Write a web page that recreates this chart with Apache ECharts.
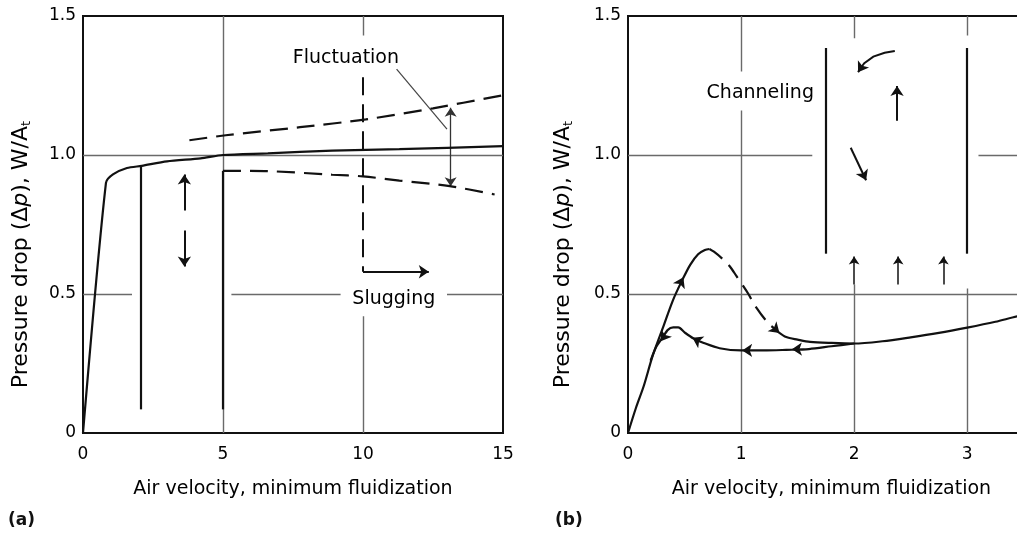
<!DOCTYPE html>
<html><head><meta charset="utf-8">
<script src="https://cdn.jsdelivr.net/npm/echarts@6/dist/echarts.min.js"></script>
<style>html,body{margin:0;padding:0;background:#fff}#c{width:1017px;height:536px}</style>
</head><body><div id="c"></div>
<script>
// ---------- data ----------
const xTicksA = ['0', '5', '10', '15'];
const xTicksB = ['0', '1', '2', '3'];
const yTicks = ['0', '0.5', '1.0', '1.5'];
const xTitle = 'Air velocity, minimum fluidization';

// Panel (a)
const aMain = [[0,0],[0.82,0.90],[1.07,0.93],[1.57,0.953],[2.1,0.961],[3.0,0.977],[4.2,0.988],[5.0,1.0],[6.6,1.006],[8.9,1.016],[11.3,1.021],[15,1.032]];
const aUpperDash = [[3.8,1.053],[5.1,1.071],[7.75,1.10],[10.1,1.128],[12.5,1.168],[15,1.215]];
const aLowerDash = [[5,0.943],[6.5,0.942],[8.9,0.929],[10,0.923],[11.3,0.908],[13.1,0.888],[14.7,0.858]];
const aWalls = [[[2.05,0.961],[2.05,0.085]], [[5,0.943],[5,0.085]]];
const aSlugLine = [[[10,1.28],[10,0.58]]];
const aSlugArrow = [[[10,0.58],[12.35,0.58]]];
const aArrows = [[[3.62,0.80],[3.62,0.93]], [[3.62,0.728],[3.62,0.599]]];
const aFluct = [[[13.13,0.888],[13.13,1.17]]];
const aLeader = [[[11.2,1.309],[13.0,1.093]]];
const aGrid = [[[5,0],[5,1.5]], [[10,0],[10,0.42]], [[10,1.43],[10,1.5]], [[0,1],[15,1]], [[0,0.5],[1.75,0.5]], [[5.3,0.5],[9.2,0.5]], [[13.0,0.5],[15,0.5]]];
const aLabels = [['Fluctuation', 9.39, 1.35], ['Slugging', 11.1, 0.48]];

// Panel (b)
const bRise = [[0,0],[0.07,0.09],[0.14,0.17],[0.22,0.28],[0.31,0.38],[0.40,0.48],[0.48,0.55],[0.55,0.605],[0.62,0.643],[0.68,0.658],[0.72,0.662]];
const bDash = [[0.72,0.662],[0.76,0.652],[0.84,0.625],[0.9,0.6],[0.96,0.564],[1.065,0.5],[1.12,0.46],[1.23,0.40],[1.33,0.363]];
const bForward = [[1.33,0.363],[1.4,0.345],[1.5,0.336],[1.61,0.328],[1.8,0.324],[2.0,0.322],[2.25,0.33],[2.5,0.344],[2.75,0.36],[3.0,0.379],[3.25,0.40],[3.45,0.42],[3.6,0.43]];
const bReturn = [[2.0,0.322],[1.8,0.312],[1.6,0.302],[1.4,0.299],[1.2,0.297],[1.0,0.297],[0.81,0.305],[0.67,0.324],[0.58,0.34],[0.5,0.362],[0.445,0.38],[0.4,0.38],[0.35,0.37],[0.3,0.34],[0.25,0.31],[0.2,0.26]];
const bHeads = [[[0.44,0.52],[0.49,0.56]], [[1.27,0.385],[1.34,0.36]], [[1.56,0.302],[1.45,0.301]], [[1.12,0.297],[1.01,0.297]], [[0.64,0.328],[0.57,0.343]], [[0.35,0.365],[0.29,0.33]]];
const bWalls = [[[1.75,1.385],[1.75,0.645]], [[3.0,1.385],[3.0,0.645]]];
const bCurl = [[[2.36,1.374],[2.27,1.368],[2.17,1.354],[2.09,1.33],[2.04,1.303]]];
const bCurlHead = [[[2.07,1.32],[2.035,1.298]]];
const bFlowArrows = [[[2.38,1.123],[2.38,1.248]], [[1.97,1.026],[2.106,0.909]]];
const bInlet = [[[2.0,0.534],[2.0,0.635]], [[2.39,0.534],[2.39,0.635]], [[2.79,0.534],[2.79,0.635]]];
const bGrid = [[[1,0],[1,1.16]], [[1,1.30],[1,1.5]], [[2,0],[2,0.534]], [[2,1.42],[2,1.5]], [[3,0],[3,0.52]], [[3,1.43],[3,1.5]], [[0,1],[1.63,1]], [[3.1,1],[3.6,1]], [[0,0.5],[3.6,0.5]]];
const bLabels = [['Channeling', 1.17, 1.223]];

// ---------- styles ----------
const FONT = 'DejaVu Sans';
const INK = '#111';
const GRIDC = '#6a6a6a';

function segs(name, idx, data, opts) {
  opts = opts || {};
  return {
    name: name, type: 'lines', coordinateSystem: 'cartesian2d',
    xAxisIndex: idx, yAxisIndex: idx, polyline: !!opts.polyline,
    symbol: opts.symbol || ['none', 'none'], symbolSize: opts.symbolSize || 10,
    lineStyle: { color: opts.color || INK, width: opts.width == null ? 2 : opts.width, type: opts.type || 'solid', opacity: 1 },
    data: data.map(c => ({ coords: c })), z: opts.z || 3, silent: true, animation: false
  };
}
function curve(name, idx, data, opts) {
  opts = opts || {};
  return {
    name: name, type: 'line', xAxisIndex: idx, yAxisIndex: idx, data: data,
    showSymbol: false, symbol: 'none', smooth: opts.smooth == null ? 0.3 : opts.smooth,
    lineStyle: { color: INK, width: 2.2, type: opts.type || 'solid' },
    z: 4, silent: true, animation: false
  };
}
function texts(idx, arr) {
  return {
    type: 'scatter', xAxisIndex: idx, yAxisIndex: idx, symbolSize: 1,
    itemStyle: { color: 'rgba(0,0,0,0)' }, silent: true, animation: false, z: 6,
    data: arr.map(t => ({ name: t[0], value: [t[1], t[2]] })),
    label: { show: true, position: 'inside', formatter: p => p.name, color: '#000', opacity: 1,
      textBorderWidth: 0, textBorderColor: 'transparent', fontFamily: FONT, fontSize: 19 }
  };
}
function xAxisCfg(idx, max, interval, ticks) {
  return {
    type: 'value', gridIndex: idx, min: 0, max: max, interval: interval,
    axisLine: { show: true, lineStyle: { color: INK, width: 2 } },
    axisTick: { show: false }, splitLine: { show: false },
    axisLabel: { margin: 13, color: '#000', fontFamily: FONT, fontSize: 17, showMaxLabel: true,
      formatter: v => { const i = Math.round(v / interval); return Math.abs(v - i * interval) < 1e-6 && ticks[i] !== undefined ? ticks[i] : ''; } },
    name: xTitle, nameLocation: 'middle', nameGap: 47,
    nameTextStyle: { color: '#000', fontFamily: FONT, fontSize: 19 }
  };
}
function yAxisCfg(idx, gap) {
  return {
    type: 'value', gridIndex: idx, min: 0, max: 1.5, interval: 0.5,
    axisLine: { show: true, lineStyle: { color: INK, width: 2 } },
    axisTick: { show: false }, splitLine: { show: false },
    axisLabel: { margin: 7, color: '#000', fontFamily: FONT, fontSize: 17, formatter: v => yTicks[Math.round(v / 0.5)] },
    name: 'Pressure drop (Δ{i|p}), W/A{s|t}', nameLocation: 'middle', nameGap: gap,
    nameTextStyle: { color: '#000', fontFamily: FONT, fontSize: 22, lineHeight: 24, padding: [0, 60, 0, 0],
      rich: { i: { fontStyle: 'italic', fontFamily: FONT, fontSize: 22, color: '#000', lineHeight: 24 },
              s: { fontFamily: FONT, fontSize: 13, color: '#000', lineHeight: 13, verticalAlign: 'bottom' } } }
  };
}

const arrowEnd = { symbol: ['none', 'arrow'], symbolSize: 10 };
const option = {
  animation: false,
  backgroundColor: '#fff',
  grid: [
    { left: 83, top: 16, width: 420, height: 417, show: true, borderColor: INK, borderWidth: 2, backgroundColor: 'transparent', outerBoundsMode: 'none', containLabel: false },
    { left: 628, top: 16, width: 407, height: 417, show: true, borderColor: INK, borderWidth: 2, backgroundColor: 'transparent', outerBoundsMode: 'none', containLabel: false }
  ],
  xAxis: [xAxisCfg(0, 15, 5, xTicksA), xAxisCfg(1, 3.6, 1, xTicksB)],
  yAxis: [yAxisCfg(0, 50), yAxisCfg(1, 53)],
  graphic: [
    { type: 'text', left: 8, top: 512, style: { text: '(a)', font: 'bold 17px "DejaVu Sans"', fill: INK } },
    { type: 'text', left: 555, top: 512, style: { text: '(b)', font: 'bold 17px "DejaVu Sans"', fill: INK } }
  ],
  series: [
    // panel a
    segs('gridA', 0, aGrid, { color: GRIDC, width: 1.4, z: 2 }),
    curve('main', 0, aMain, { smooth: 0.25 }),
    curve('upper', 0, aUpperDash, { type: [18, 9], smooth: 0.3 }),
    curve('lower', 0, aLowerDash, { type: [18, 9], smooth: 0.3 }),
    segs('walls', 0, aWalls, { width: 2.2 }),
    segs('slugLine', 0, aSlugLine, { width: 2, type: [18, 9] }),
    segs('slugArrow', 0, aSlugArrow, Object.assign({ width: 2 }, arrowEnd)),
    segs('arrowsA', 0, aArrows, Object.assign({ width: 2 }, arrowEnd)),
    segs('fluct', 0, aFluct, { width: 1.3, color: '#333', symbol: ['arrow', 'arrow'], symbolSize: 9 }),
    segs('leader', 0, aLeader, { width: 1.2, color: '#444' }),
    texts(0, aLabels),
    // panel b
    segs('gridB', 1, bGrid, { color: GRIDC, width: 1.4, z: 2 }),
    curve('rise', 1, bRise, { smooth: 0.3 }),
    curve('dash', 1, bDash, { type: [16, 9], smooth: 0.3 }),
    curve('forward', 1, bForward, { smooth: 0.3 }),
    curve('return', 1, bReturn, { smooth: 0.3 }),
    segs('heads', 1, bHeads, Object.assign({ width: 0.5 }, arrowEnd)),
    segs('wallsB', 1, bWalls, { width: 2.2 }),
    segs('curl', 1, bCurl, { width: 2, polyline: true }),
    segs('curlHead', 1, bCurlHead, Object.assign({ width: 2 }, arrowEnd)),
    segs('flow', 1, bFlowArrows, Object.assign({ width: 2 }, arrowEnd)),
    segs('inlet', 1, bInlet, { width: 1.5, symbol: ['none', 'arrow'], symbolSize: 8 }),
    texts(1, bLabels)
  ]
};
const chart = echarts.init(document.getElementById('c'), null, { renderer: 'canvas' });
chart.setOption(option);
</script>
</body></html>
